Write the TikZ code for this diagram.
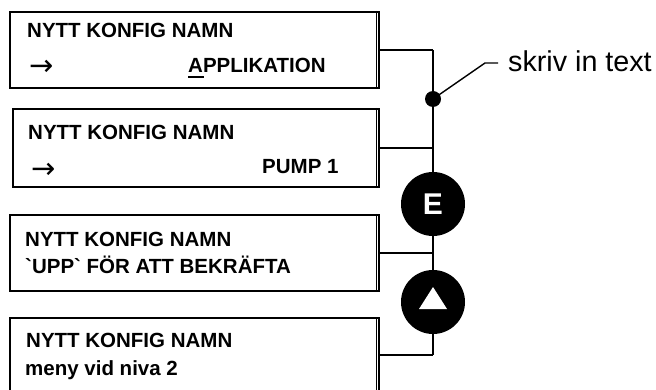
\documentclass[tikz,border=0pt]{standalone}
\usepackage{fontspec}
\setmainfont{Liberation Sans}
\newfontfamily\arrowfont{DejaVu Sans}
\begin{document}
\begin{tikzpicture}[x=1pt,y=-1pt,
  panel/.style={draw, line width=2pt, minimum width=369pt, minimum height=76pt, inner sep=0pt, anchor=north west},
  inner edge/.style={line width=0.9pt},
  ptxt/.style={font=\bfseries\fontsize{20.5}{24}\selectfont, anchor=base west, inner sep=0pt},
  arr/.style={font=\arrowfont\fontsize{29}{32}\selectfont, anchor=base west, inner sep=0pt},
  bus/.style={line width=1.6pt},
  key/.style={circle, fill=black, minimum size=64pt, inner sep=0pt}]
\useasboundingbox (0,0) rectangle (656,390);
% panels
\node[panel] (b1) at (9,11) {};
\node[panel, minimum width=366pt, minimum height=78pt] (b2) at (12,108) {};
\node[panel] (b3) at (9,214) {};
\node[panel, minimum height=74pt] (b4) at (9,317) {};
\foreach \b in {b1,b2,b3,b4}
  \draw[inner edge] ([xshift=-3.5pt]\b.north east) -- ([xshift=-3.5pt]\b.south east);
% texts
\node[ptxt] (t1a) at (27,38) {NYTT KONFIG NAMN};
\node[arr] (t1b) at (29,76) {→};
\node[ptxt] (t1c) at (188,73) {\rlap{\rule[-5pt]{16pt}{1.6pt}}APPLIKATION};
\node[ptxt] (t2a) at (28,140) {NYTT KONFIG NAMN};
\node[arr] (t2b) at (31,178.5) {→};
\node[ptxt] (t2c) at (262,174) {PUMP 1};
\node[ptxt] (t3a) at (25,247) {NYTT KONFIG NAMN};
\node[ptxt] (t3b) at (25,273) {\textasciigrave UPP\textasciigrave{} FÖR ATT BEKRÄFTA};
\node[ptxt] (t4a) at (26,347) {NYTT KONFIG NAMN};
\node[ptxt] (t4b) at (25,375) {meny vid niva 2};
% bus
\coordinate (busx) at (433,0);
\coordinate (j1) at (b1.east -| busx);
\coordinate (j2) at (b2.east -| busx);
\coordinate (j3) at (b3.east -| busx);
\coordinate (j4) at (b4.east -| busx);
\node[circle, fill=black, minimum size=16pt, inner sep=0pt] (dot) at (433,99) {};
\node[key, text=white, font=\bfseries\fontsize{30}{30}\selectfont] (ekey) at (433,204) {E};
\node[key] (upkey) at (433,302) {};
\fill[white] ([shift={(-14,7)}]upkey.center) -- ([shift={(14,7)}]upkey.center) -- ([shift={(0,-15)}]upkey.center) -- cycle;
\draw[line width=2pt] (b1.east) -- (j1);
\draw[bus] (j1) -- (dot) -- (ekey) -- (upkey) -- (j4);
\draw[bus] (b2.east) -- (j2);
\draw[line width=1.2pt] (b3.east) -- (j3);
\draw[bus] (b4.east) -- (j4);
% leader
\coordinate (lk) at (485,63);
\coordinate (lend) at (498,63);
\draw[line width=1.4pt] (dot.center) -- (lk) -- (lend);
\node[anchor=base west, inner sep=0pt, font=\fontsize{28.7}{30}\selectfont] (note) at (508,72) {skriv in text};
\end{tikzpicture}
\end{document}
